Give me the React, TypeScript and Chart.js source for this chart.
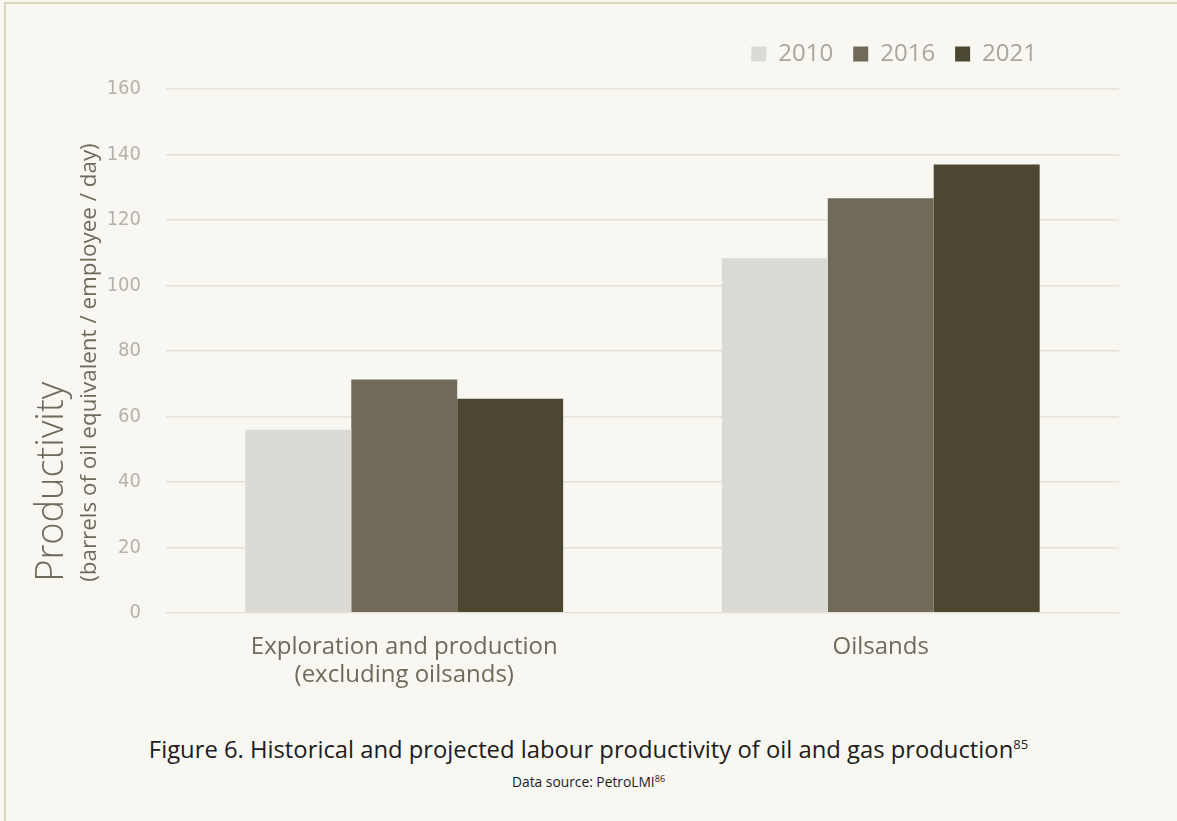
import React, { useEffect, useRef } from "react";
import { Chart, registerables } from "chart.js";

Chart.register(...registerables);

const categories: (string | string[])[] = [
  ["Exploration and production", "(excluding oilsands)"],
  "Oilsands",
];
const seriesLabels = ["2010", "2016", "2021"];
const values2010 = [55.9, 108.3];
const values2016 = [71.3, 126.6];
const values2021 = [65.4, 136.9];
const seriesColors = ["#dbdad5", "#716a58", "#4c4730"];
const yMin = 0;
const yMax = 160;
const yStep = 20;
const yTitle = "Productivity";
const ySubtitle = "(barrels of oil equivalent / employee / day)";
const captionText = "Figure 6. Historical and projected labour productivity of oil and gas production";
const captionRef = "85";
const sourceText = "Data source: PetroLMI";
const sourceRef = "86";

const yTitlePlugin = {
  id: "yTitlePlugin",
  afterDraw(chart: any) {
    const ctx = chart.ctx;
    const bottom = chart.chartArea.bottom - 31;
    ctx.save();
    ctx.fillStyle = "#6f6a5a";
    ctx.textAlign = "left";
    ctx.textBaseline = "alphabetic";
    ctx.translate(63, bottom);
    ctx.rotate(-Math.PI / 2);
    ctx.font = "300 38px 'Open Sans'";
    ctx.fillText(yTitle, 0, 0);
    ctx.restore();
    ctx.save();
    ctx.fillStyle = "#6f6a5a";
    ctx.textAlign = "left";
    ctx.textBaseline = "alphabetic";
    ctx.translate(96, bottom);
    ctx.rotate(-Math.PI / 2);
    ctx.font = "400 22.4px 'Open Sans'";
    ctx.fillText(ySubtitle, 0, 0);
    ctx.restore();
  },
};

const legendShiftPlugin = {
  id: "legendShiftPlugin",
  afterLayout(chart: any) {
    const l = chart.legend;
    if (l) {
      l.left -= 62;
      l.right -= 62;
      l.top -= 13;
      l.bottom -= 13;
    }
  },
};

function ChartCanvas() {
  const ref = useRef<HTMLCanvasElement | null>(null);
  useEffect(() => {
    if (!ref.current) return;
    const chart = new Chart(ref.current, {
      type: "bar",
      data: {
        labels: categories,
        datasets: [values2010, values2016, values2021].map((d, i) => ({
          label: seriesLabels[i],
          data: d,
          backgroundColor: seriesColors[i],
          borderWidth: 0,
          categoryPercentage: 0.667,
          barPercentage: 1.0,
        })),
      },
      options: {
        animation: false,
        responsive: false,
        layout: { padding: { top: 35, right: 58, bottom: 10, left: 0 } },
        plugins: {
          legend: {
            position: "top",
            align: "end",
            labels: {
              boxWidth: 15,
              boxHeight: 15,
              padding: 20,
              color: "#a9a69c",
              font: { family: "'Open Sans'", size: 24, weight: "400" },
            },
          },
          tooltip: { enabled: false },
        },
        scales: {
          x: {
            grid: { display: false },
            border: { display: false },
            ticks: {
              color: "#6f6a5a",
              padding: 13,
              font: { family: "'Open Sans'", size: 24, lineHeight: 1.15 },
            },
          },
          y: {
            min: yMin,
            max: yMax,
            ticks: {
              stepSize: yStep,
              color: "#b5b2a9",
              padding: 25,
              font: { family: "'DejaVu Sans Condensed', sans-serif", size: 20 },
            },
            grid: { color: "#e6e2d6", lineWidth: 1.5, drawTicks: false },
            border: { display: false },
            afterFit(scale: any) {
              scale.width = 166;
            },
          },
        },
      },
      plugins: [yTitlePlugin, legendShiftPlugin],
    });
    return () => chart.destroy();
  }, []);
  return (
    <canvas
      ref={ref}
      width={1177}
      height={712}
      style={{ position: "absolute", left: 0, top: 0, width: 1177, height: 712 }}
    />
  );
}

export default function App() {
  return (
    <div
      style={{
        position: "fixed",
        left: 0,
        top: 0,
        width: 1177,
        height: 821,
        background: "#f8f7f2",
        overflow: "hidden",
      }}
    >
      <div
        style={{
          position: "absolute",
          left: 4,
          top: 2,
          width: 2000,
          height: 2000,
          borderLeft: "2px solid #ddd5bc",
          borderTop: "2px solid #ddd5bc",
        }}
      />
      <ChartCanvas />
      <div
        style={{
          position: "absolute",
          left: 0,
          top: 734,
          width: 1177,
          textAlign: "center",
          fontFamily: "'Open Sans', sans-serif",
          fontSize: 23.8,
          color: "#1c1c1c",
          lineHeight: "30px",
          whiteSpace: "nowrap",
        }}
      >
        {captionText}
        <sup style={{ fontSize: 13, verticalAlign: "top", position: "relative", top: -5 }}>{captionRef}</sup>
      </div>
      <div
        style={{
          position: "absolute",
          left: 0,
          top: 771,
          width: 1177,
          textAlign: "center",
          fontFamily: "'Open Sans', sans-serif",
          fontSize: 13.8,
          color: "#1c1c1c",
          lineHeight: "22px",
        }}
      >
        {sourceText}
        <sup style={{ fontSize: 9, verticalAlign: "top", position: "relative", top: -3 }}>{sourceRef}</sup>
      </div>
    </div>
  );
}
